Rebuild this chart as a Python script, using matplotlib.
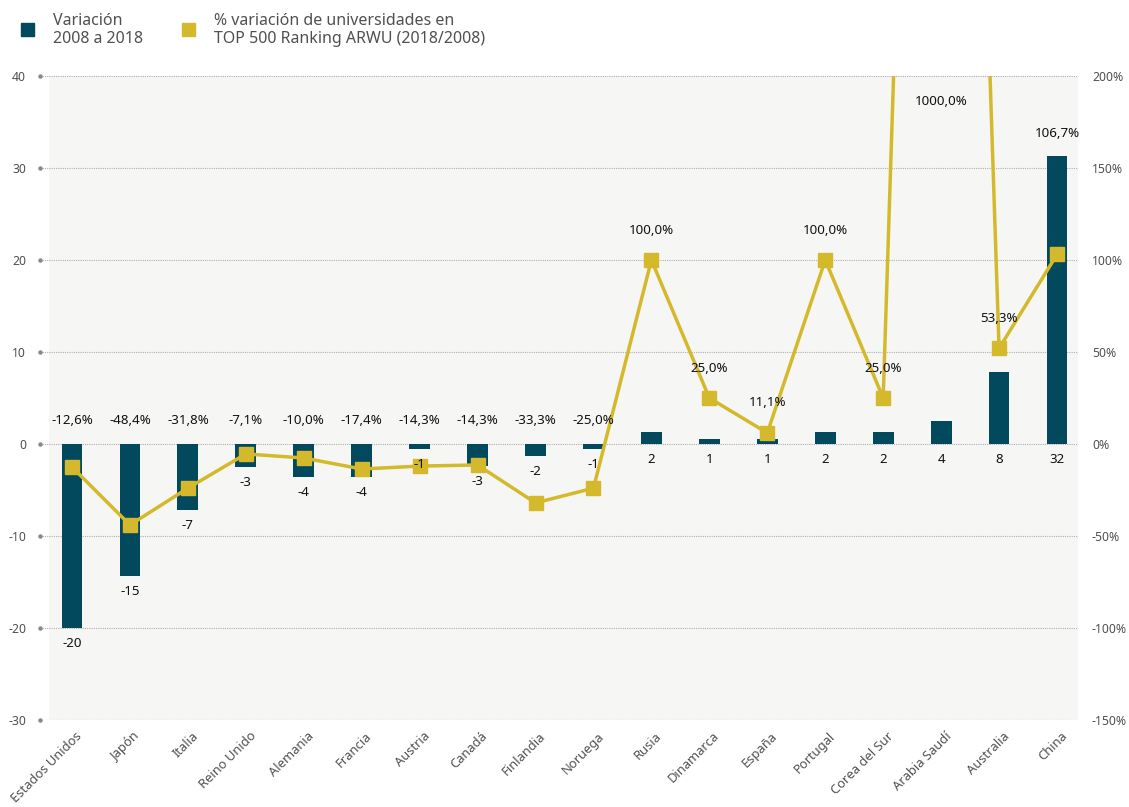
import numpy as np
import matplotlib
matplotlib.use("Agg")
import matplotlib.pyplot as plt
from matplotlib.patches import Rectangle

plt.rcParams['font.family'] = ['Noto Sans', 'DejaVu Sans']

# data
paises = ['Estados Unidos', 'Japón', 'Italia', 'Reino Unido', 'Alemania', 'Francia',
          'Austria', 'Canadá', 'Finlandia', 'Noruega', 'Rusia', 'Dinamarca', 'España',
          'Portugal', 'Corea del Sur', 'Arabia Saudí', 'Australia', 'China']
# bar labels (change in number of universities 2008-2018)
variacion = [-20, -15, -7, -3, -4, -4, -1, -3, -2, -1, 2, 1, 1, 2, 2, 4, 8, 32]
# bar heights as drawn in the original
variacion_barra = [-20, -14.35, -7.2, -2.5, -3.6, -3.6, -0.55, -2.4, -1.3, -0.55,
                   1.3, 0.55, 0.55, 1.3, 1.3, 2.5, 7.8, 31.3]
# % change labels and the marker positions as drawn
pct_labels = ['-12,6%', '-48,4%', '-31,8%', '-7,1%', '-10,0%', '-17,4%', '-14,3%',
              '-14,3%', '-33,3%', '-25,0%', '100,0%', '25,0%', '11,1%', '100,0%',
              '25,0%', '1000,0%', '53,3%', '106,7%']
pct_linea = [-12.5, -44, -24, -5.4, -7.6, -13.6, -12, -11.4, -32, -24,
             100, 25, 6, 100, 25, 1000, 52, 103]

left_ticks = [-30, -20, -10, 0, 10, 20, 30, 40]
right_ticks = [-150, -100, -50, 0, 50, 100, 150, 200]

azul = '#03495e'
amarillo = '#d5b92c'
fondo = '#f6f6f4'
gris_txt = '#505050'
negro_txt = '#111111'

W, H = 1129, 807
fig = plt.figure(figsize=(W / 100, H / 100), dpi=100)

# axes in pixel terms: left 40, right 1078, top 76, bottom 720
ax = fig.add_axes([40 / W, (H - 720) / H, (1078 - 40) / W, (720 - 76) / H])
ax2 = ax.twinx()
ax2.set_zorder(ax.get_zorder() + 1)
ax2.patch.set_visible(False)
ax.patch.set_visible(False)

x = np.arange(len(paises))
step = (1057 - 72) / 17.0
xmin = -(72 - 40) / step
xmax = (1078 - 72) / step
bg_left = -(72 - 49) / step

ax.set_xlim(xmin, xmax)
ax.set_ylim(-30, 40)
ax2.set_ylim(-150, 200)

ax.axvspan(bg_left, xmax, color=fondo, zorder=0, lw=0)

for t in left_ticks:
    ax.axhline(t, color='#b0b0b0', lw=0.8, ls=(0, (1, 1)), zorder=1)
    ax.plot([xmin], [t], marker='o', ms=2.2, color='#888888', clip_on=False, zorder=2)

ax.bar(x, variacion_barra, width=0.36, color=azul, zorder=3)

ax2.plot(x, pct_linea, color=amarillo, lw=2.5, marker='s', ms=10.5,
         markerfacecolor=amarillo, markeredgecolor=amarillo, zorder=4, clip_on=True)

# ticks
ax.set_yticks(left_ticks)
ax.set_yticklabels([str(t) for t in left_ticks])
ax2.set_yticks(right_ticks)
ax2.set_yticklabels([f'{t}%' for t in right_ticks])
ax.tick_params(axis='y', length=0, pad=10, labelsize=8.8, labelcolor=gris_txt)
ax2.tick_params(axis='y', length=0, pad=10, labelsize=8.8, labelcolor=gris_txt)
ax.set_xticks([])
for a in (ax, ax2):
    for s in a.spines.values():
        s.set_visible(False)

# rotated category labels
trans = ax.get_xaxis_transform()
for i, p in enumerate(paises):
    ax.text(i + 0.14, -0.022, p, transform=trans, rotation=45, ha='right', va='center',
            rotation_mode='anchor', fontsize=9.3, color=gris_txt)

# bar value labels
for i, (v, h) in enumerate(zip(variacion, variacion_barra)):
    ax2.text(i, (min(h, 0) - 1.7) * 5, str(v), ha='center', va='center',
             fontsize=9.6, color=negro_txt, zorder=6)

# percentage labels
for i, (lab, p) in enumerate(zip(pct_labels, pct_linea)):
    if p < 0:
        y = 12.5
    elif p > 200:
        y = 186
    elif i == len(paises) - 1:
        y = 168.5
    else:
        y = p + 16.3
    ax2.text(i, y, lab, ha='center', va='center', fontsize=9.6, color=negro_txt, zorder=6)

# legend
fig.patches.append(Rectangle((21 / W, 1 - 36 / H), 13 / W, 13 / H, transform=fig.transFigure,
                             color=azul))
fig.patches.append(Rectangle((182 / W, 1 - 36 / H), 13 / W, 13 / H, transform=fig.transFigure,
                             color=amarillo))
fig.text(53 / W, 1 - 30 / H, 'Variación\n2008 a 2018', ha='left', va='center',
         fontsize=11.5, color=gris_txt, linespacing=1.15)
fig.text(214 / W, 1 - 30 / H, '% variación de universidades en\nTOP 500 Ranking ARWU (2018/2008)',
         ha='left', va='center', fontsize=11.5, color=gris_txt, linespacing=1.15)

fig.savefig('out.png', dpi=100, facecolor='white')
